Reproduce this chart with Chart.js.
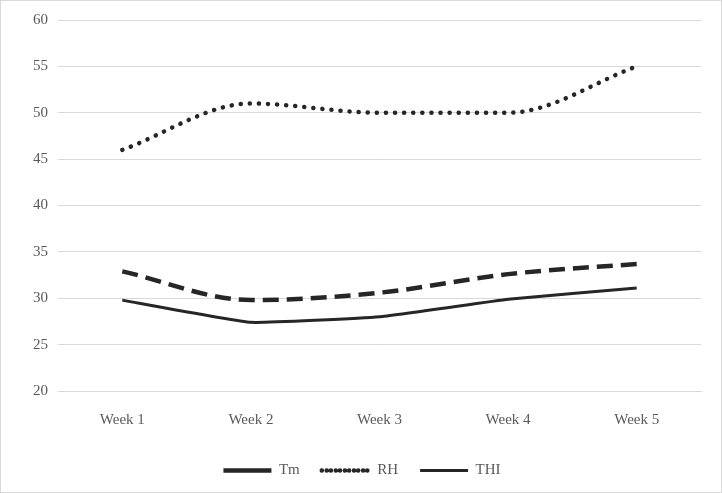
<!DOCTYPE html>
<html>
<head>
<meta charset="utf-8">
<script src="https://cdn.jsdelivr.net/npm/chart.js@4"></script>
<style>
  body { margin: 0; background: #fff; }
  #wrap { position: absolute; left: 0; top: 0; width: 720px; height: 491px; border: 1px solid #d9d9d9; }
</style>
</head>
<body>
<div id="wrap"><canvas id="chart"></canvas></div>
<script>
const weeks = ["Week 1", "Week 2", "Week 3", "Week 4", "Week 5"];
const tmValues = [32.9, 29.8, 30.6, 32.6, 33.7];
const rhValues = [46, 51, 50, 50, 55];
const thiValues = [29.8, 27.4, 28.0, 29.9, 31.1];

Chart.defaults.font.family = "'Liberation Serif', 'Times New Roman', serif";
Chart.defaults.font.size = 15;
Chart.defaults.color = "#595959";

new Chart(document.getElementById("chart").getContext("2d"), {
  type: "line",
  data: {
    labels: weeks,
    datasets: [
      {
        label: "Tm",
        data: tmValues,
        borderColor: "#262626",
        borderWidth: 4.5,
        borderDash: [16, 8],
        cubicInterpolationMode: "monotone",
        pointRadius: 0,
        fill: false,
      },
      {
        label: "RH",
        data: rhValues,
        borderColor: "#262626",
        borderWidth: 4.5,
        borderDash: [0.1, 9],
        borderCapStyle: "round",
        cubicInterpolationMode: "monotone",
        pointRadius: 0,
        fill: false,
      },
      {
        label: "THI",
        data: thiValues,
        borderColor: "#262626",
        borderWidth: 3,
        tension: 0.1,
        pointRadius: 0,
        fill: false,
      },
    ],
  },
  options: {
    responsive: true,
    maintainAspectRatio: false,
    animation: false,
    layout: { padding: { left: 22, right: 20, top: 12, bottom: 4 } },
    plugins: {
      legend: {
        position: "bottom",
        labels: {
          boxWidth: 48,
          boxHeight: 0,
          padding: 22,
          color: "#595959",
        },
      },
      tooltip: { enabled: false },
    },
    scales: {
      y: {
        min: 20,
        max: 60,
        ticks: { stepSize: 5, padding: 10 },
        grid: { color: "#d9d9d9", drawTicks: false },
        border: { display: false },
      },
      x: {
        offset: true,
        ticks: { padding: 12 },
        grid: { display: false, offset: true },
        border: { color: "#d9d9d9" },
      },
    },
  },
});
</script>
</body>
</html>
